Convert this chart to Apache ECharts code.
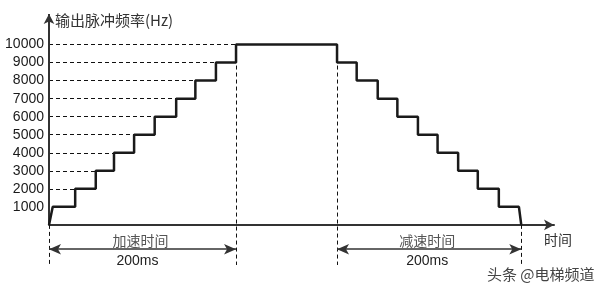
<!DOCTYPE html>
<html><head><meta charset="utf-8">
<script src="https://cdn.jsdelivr.net/npm/echarts@6/dist/echarts.min.js"></script>
<style>html,body{margin:0;padding:0;background:#fff}#c{width:604px;height:289px}</style>
</head><body><div id="c"></div>
<script>
// Frequency levels (Hz)
const levels = [1000,2000,3000,4000,5000,6000,7000,8000,9000,10000];
// time (ms) at which each level is reached during acceleration
const riseTimes = [4,28,50,69.5,91,113,136,156.5,178.5,200];
// time (ms) at which each level ends during deceleration (10000 → 1000)
const fallTimes = [308,329,351.5,372.5,394.5,415.5,437.5,458.5,481,502.5];
const endTime = 505;
const accelSpan = [0,200];
const decelSpan = [308,505];
const spanLabel = '200ms';
const yTickLabels = ['1000','2000','3000','4000','5000','6000','7000','8000','9000','10000'];

// build staircase path
const pts = [[0,0]];
for (let i=0;i<levels.length;i++){
  if (i>0) pts.push([riseTimes[i], levels[i-1]]);
  pts.push([riseTimes[i], levels[i]]);
}
const desc = levels.slice().reverse();
for (let i=0;i<desc.length;i++){
  pts.push([fallTimes[i], desc[i]]);
  if (i<desc.length-1) pts.push([fallTimes[i], desc[i+1]]);
}
pts.push([endTime,0]);

const YMIN = -3000, YMAX = 11694, XMAX = 540;
const BELOW = -2222; // extent of dashed guides below axis
const ARROWY = -1350;
const dash = {type:[4,3], color:'#111', width:1};
const mlData = [];
for (let i=1;i<levels.length;i++){
  mlData.push([{coord:[0,levels[i]], lineStyle:dash},{coord:[riseTimes[i],levels[i]]}]);
}
mlData.push([{coord:[0,0], lineStyle:dash},{coord:[0,BELOW]}]);
mlData.push([{coord:[accelSpan[1],10000], lineStyle:dash},{coord:[accelSpan[1],BELOW]}]);
mlData.push([{coord:[fallTimes[0],10000], lineStyle:dash},{coord:[fallTimes[0],BELOW]}]);
mlData.push([{coord:[endTime,0], lineStyle:dash},{coord:[endTime,BELOW]}]);

const arrowData = [
  [{coord:[accelSpan[0],ARROWY]},{coord:[accelSpan[1],ARROWY]}],
  [{coord:[decelSpan[0],ARROWY]},{coord:[decelSpan[1],ARROWY]}]
];
const yAxisLine = [[{coord:[0,0]},{coord:[0,YMAX]}]];

const chart = echarts.init(document.getElementById('c'), null, {renderer:'canvas'});
chart.setOption({
  animation:false,
  grid:{left:49, right:50, top:14, bottom:10},
  xAxis:{type:'value', min:0, max:XMAX,
    axisLine:{onZero:true, lineStyle:{color:'#333', width:2}, symbol:['none','arrow'], symbolSize:[8,10]},
    axisTick:{show:false}, axisLabel:{show:false}, splitLine:{show:false}},
  yAxis:{type:'value', min:YMIN, max:YMAX, interval:1000,
    axisLine:{show:false},
    axisTick:{show:false}, splitLine:{show:false},
    axisLabel:{margin:5, fontFamily:'Liberation Sans, Arial', fontSize:14, color:'#1a1a1a',
      formatter:v=>{const s=String(v); return yTickLabels.indexOf(s)>=0?s:'';}}},
  series:[
    {type:'line', data:pts, symbol:'none', clip:false, z:5,
     lineStyle:{color:'#1a1a1a', width:2.5},
     markLine:{silent:true, symbol:['none','none'], label:{show:false}, data:mlData, animation:false}},
    {type:'line', data:[], clip:false,
     markLine:{silent:true, symbol:['arrow','arrow'], symbolSize:[8,12], label:{show:false},
       lineStyle:{type:'solid', color:'#333', width:1.5}, data:arrowData, animation:false}},
    {type:'line', data:[], clip:false,
     markLine:{silent:true, symbol:['none','arrow'], symbolSize:[8,10], label:{show:false},
       lineStyle:{type:'solid', color:'#333', width:2}, data:yAxisLine, animation:false}}
  ]
});

function px(t,v){return chart.convertToPixel({gridIndex:0},[t,v]);}
const a1 = px((accelSpan[0]+accelSpan[1])/2, ARROWY);
const a2 = px((decelSpan[0]+decelSpan[1])/2, ARROWY);
const yTop = px(0, YMAX);
const xEnd = px(XMAX, 0);
chart.setOption({graphic:[
  {type:'text', left:yTop[0]+6, top:yTop[1]-1, style:{text:'输出脉冲频率(Hz)', font:'15px "Noto Sans CJK SC", sans-serif', fill:'#333'}},
  {type:'text', x:a1[0]-2, y:a1[1]-9, style:{text:'加速时间', font:'14px "Noto Sans CJK SC", sans-serif', fill:'#555', align:'center', verticalAlign:'middle'}},
  {type:'text', x:a1[0]-5, y:a1[1]+12, style:{text:spanLabel, font:'14px "Liberation Sans", Arial', fill:'#222', align:'center', verticalAlign:'middle'}},
  {type:'text', x:a2[0]-2, y:a2[1]-9, style:{text:'减速时间', font:'14px "Noto Sans CJK SC", sans-serif', fill:'#555', align:'center', verticalAlign:'middle'}},
  {type:'text', x:a2[0]-2, y:a2[1]+12, style:{text:spanLabel, font:'14px "Liberation Sans", Arial', fill:'#222', align:'center', verticalAlign:'middle'}},
  {type:'text', x:xEnd[0]+4, y:xEnd[1]+15, style:{text:'时间', font:'14px "Noto Sans CJK SC", sans-serif', fill:'#333', align:'center', verticalAlign:'middle'}},
  {type:'text', right:9, bottom:7, style:{text:'头条 @电梯频道', font:'15px "Noto Sans CJK SC", sans-serif', fill:'#444', stroke:'#fff', lineWidth:1}}
]});
</script></body></html>
